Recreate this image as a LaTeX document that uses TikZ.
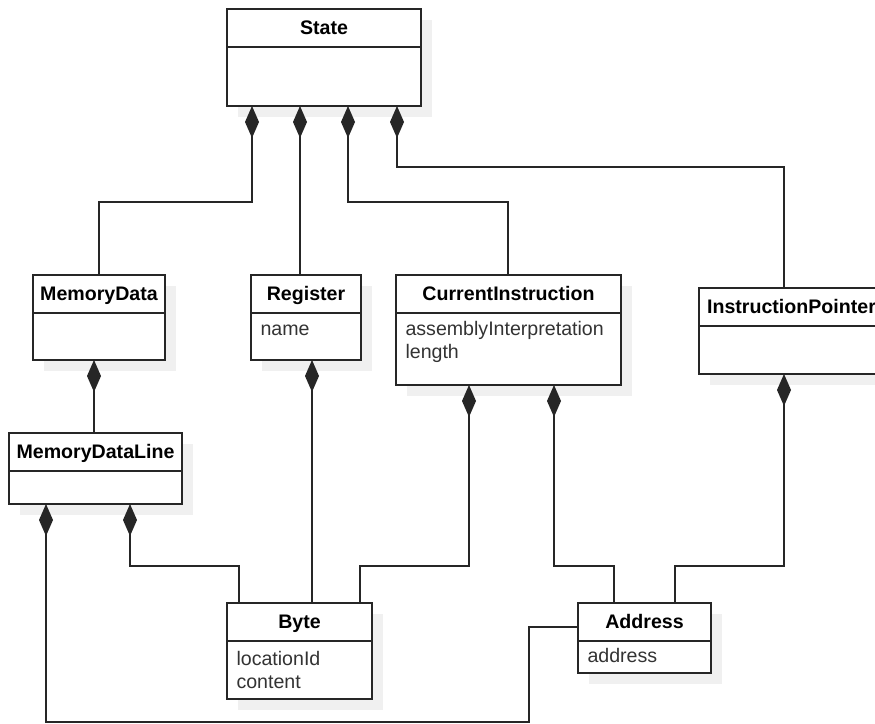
\documentclass[tikz,border=0pt]{standalone}
\usepackage{fontspec}
\setmainfont{Liberation Sans}
\usetikzlibrary{arrows.meta,shadows,calc,positioning}

\tikzset{every picture/.style={line width=0.75pt}}
\tikzset{
	classtitle/.style={draw=black!85, line width=1.1pt, fill=white, anchor=north west, inner sep=0pt, outer sep=0pt,
		minimum height=28.5pt, text height=9.75pt, text depth=0pt, font=\fontsize{14.7}{17.25}\selectfont\bfseries,
		drop shadow={shadow xshift=8.25pt, shadow yshift=-8.25pt, fill=black!6, opacity=1, draw=none}},
	classbody/.style={draw=black!85, line width=1.1pt, fill=white, anchor=north west, inner sep=0pt, outer sep=0pt,
		drop shadow={shadow xshift=8.25pt, shadow yshift=-8.25pt, fill=black!6, opacity=1, draw=none}},
	classattr/.style={anchor=base west, inner sep=0pt, text=black!80, font=\fontsize{14.7}{17.25}\selectfont},
	comp/.style={draw=black!85, line width=1.1pt, arrows={Diamond[length=24pt,width=10.5pt]-}},
}

\begin{document}
\begin{tikzpicture}[x=0.75pt,y=0.75pt,yscale=-1,xscale=1]
	\path[use as bounding box] (0,0) rectangle (875,724);
	\clip (0,0) rectangle (875,724);
	\fill[white] (0,0) rectangle (875,724);

	%Shape: Rectangle [State]
	\node[classtitle, minimum width=145.5pt] (state) at (227,9) {State};
	\node[classbody, minimum width=145.5pt, minimum height=44.25pt] (state-body) at (state.south west) {};

	%Shape: Rectangle [MemoryData]
	\node[classtitle, minimum width=99pt] (memdata) at (33,275) {MemoryData};
	\node[classbody, minimum width=99pt, minimum height=35.25pt] (memdata-body) at (memdata.south west) {};

	%Shape: Rectangle [Register]
	\node[classtitle, minimum width=82.5pt] (register) at (251,275) {Register};
	\node[classbody, minimum width=82.5pt, minimum height=35.25pt] (register-body) at (register.south west) {};

	%Shape: Rectangle [CurrentInstruction]
	\node[classtitle, minimum width=168.75pt] (curinstr) at (396,275) {CurrentInstruction};
	\node[classbody, minimum width=168.75pt, minimum height=54pt] (curinstr-body) at (curinstr.south west) {};

	%Shape: Rectangle [InstructionPointer]
	\node[classtitle, minimum width=138.75pt] (instrptr) at (699,288) {InstructionPointer};
	\node[classbody, minimum width=138.75pt, minimum height=36pt] (instrptr-body) at (instrptr.south west) {};

	%Shape: Rectangle [MemoryDataLine]
	\node[classtitle, minimum width=129.75pt] (memdataline) at (9,433) {MemoryDataLine};
	\node[classbody, minimum width=129.75pt, minimum height=24.75pt] (memdataline-body) at (memdataline.south west) {};

	%Shape: Rectangle [Byte]
	\node[classtitle, minimum width=108.75pt] (byte) at (227,603) {Byte};
	\node[classbody, minimum width=108.75pt, minimum height=43.5pt] (byte-body) at (byte.south west) {};

	%Shape: Rectangle [Address]
	\node[classtitle, minimum width=99.75pt] (address) at (578,603) {Address};
	\node[classbody, minimum width=99.75pt, minimum height=24pt] (address-body) at (address.south west) {};

	% Text Node
	\node[classattr] (register-name) at ($(register-body.north west)+(9,22)$) {name};
	% Text Node
	\node[classattr] (curinstr-asm) at ($(curinstr-body.north west)+(9,22)$) {assemblyInterpretation};
	% Text Node
	\node[classattr] (curinstr-len) at ($(curinstr-body.north west)+(9,45)$) {length};
	% Text Node
	\node[classattr] (byte-loc) at ($(byte-body.north west)+(9,24)$) {locationId};
	% Text Node
	\node[classattr] (byte-content) at ($(byte-body.north west)+(9,47)$) {content};
	% Text Node
	\node[classattr] (address-addr) at ($(address-body.north west)+(9,21)$) {address};

	%Straight Lines [State -- MemoryData]
	\draw[comp] ($(state-body.south west)+(25,0)$) -- ++(0,96) -| (memdata.north);
	%Straight Lines [State -- Register]
	\draw[comp] ($(state-body.south west)+(73,0)$) -- ($(register.north west)+(49,0)$);
	%Straight Lines [State -- CurrentInstruction]
	\draw[comp] ($(state-body.south west)+(121,0)$) -- ++(0,96) -| ($(curinstr.north west)+(112,0)$);
	%Straight Lines [State -- InstructionPointer]
	\draw[comp] ($(state-body.south west)+(170,0)$) -- ++(0,61) -| ($(instrptr.north west)+(85,0)$);
	%Straight Lines [MemoryData -- MemoryDataLine]
	\draw[comp] ($(memdata-body.south west)+(61,0)$) -- ($(memdataline.north west)+(85,0)$);
	%Straight Lines [Register -- Byte]
	\draw[comp] ($(register-body.south west)+(61,0)$) -- ($(byte.north west)+(85,0)$);
	%Straight Lines [MemoryDataLine -- Byte]
	\draw[comp] ($(memdataline-body.south west)+(121,0)$) -- ++(0,62) -| ($(byte.north west)+(12,0)$);
	%Straight Lines [MemoryDataLine -- Address]
	\draw[comp] ($(memdataline-body.south west)+(37,0)$) -- ++(0,218) -- ++(483,0) |- ($(address.north west)+(0,24)$);
	%Straight Lines [CurrentInstruction -- Byte]
	\draw[comp] ($(curinstr-body.south west)+(73,0)$) -- ++(0,181) -| ($(byte.north west)+(133,0)$);
	%Straight Lines [CurrentInstruction -- Address]
	\draw[comp] ($(curinstr-body.south west)+(158,0)$) -- ++(0,181) -| ($(address.north west)+(36,0)$);
	%Straight Lines [InstructionPointer -- Address]
	\draw[comp] ($(instrptr-body.south west)+(85,0)$) -- ++(0,192) -| ($(address.north west)+(97,0)$);

\end{tikzpicture}
\end{document}
